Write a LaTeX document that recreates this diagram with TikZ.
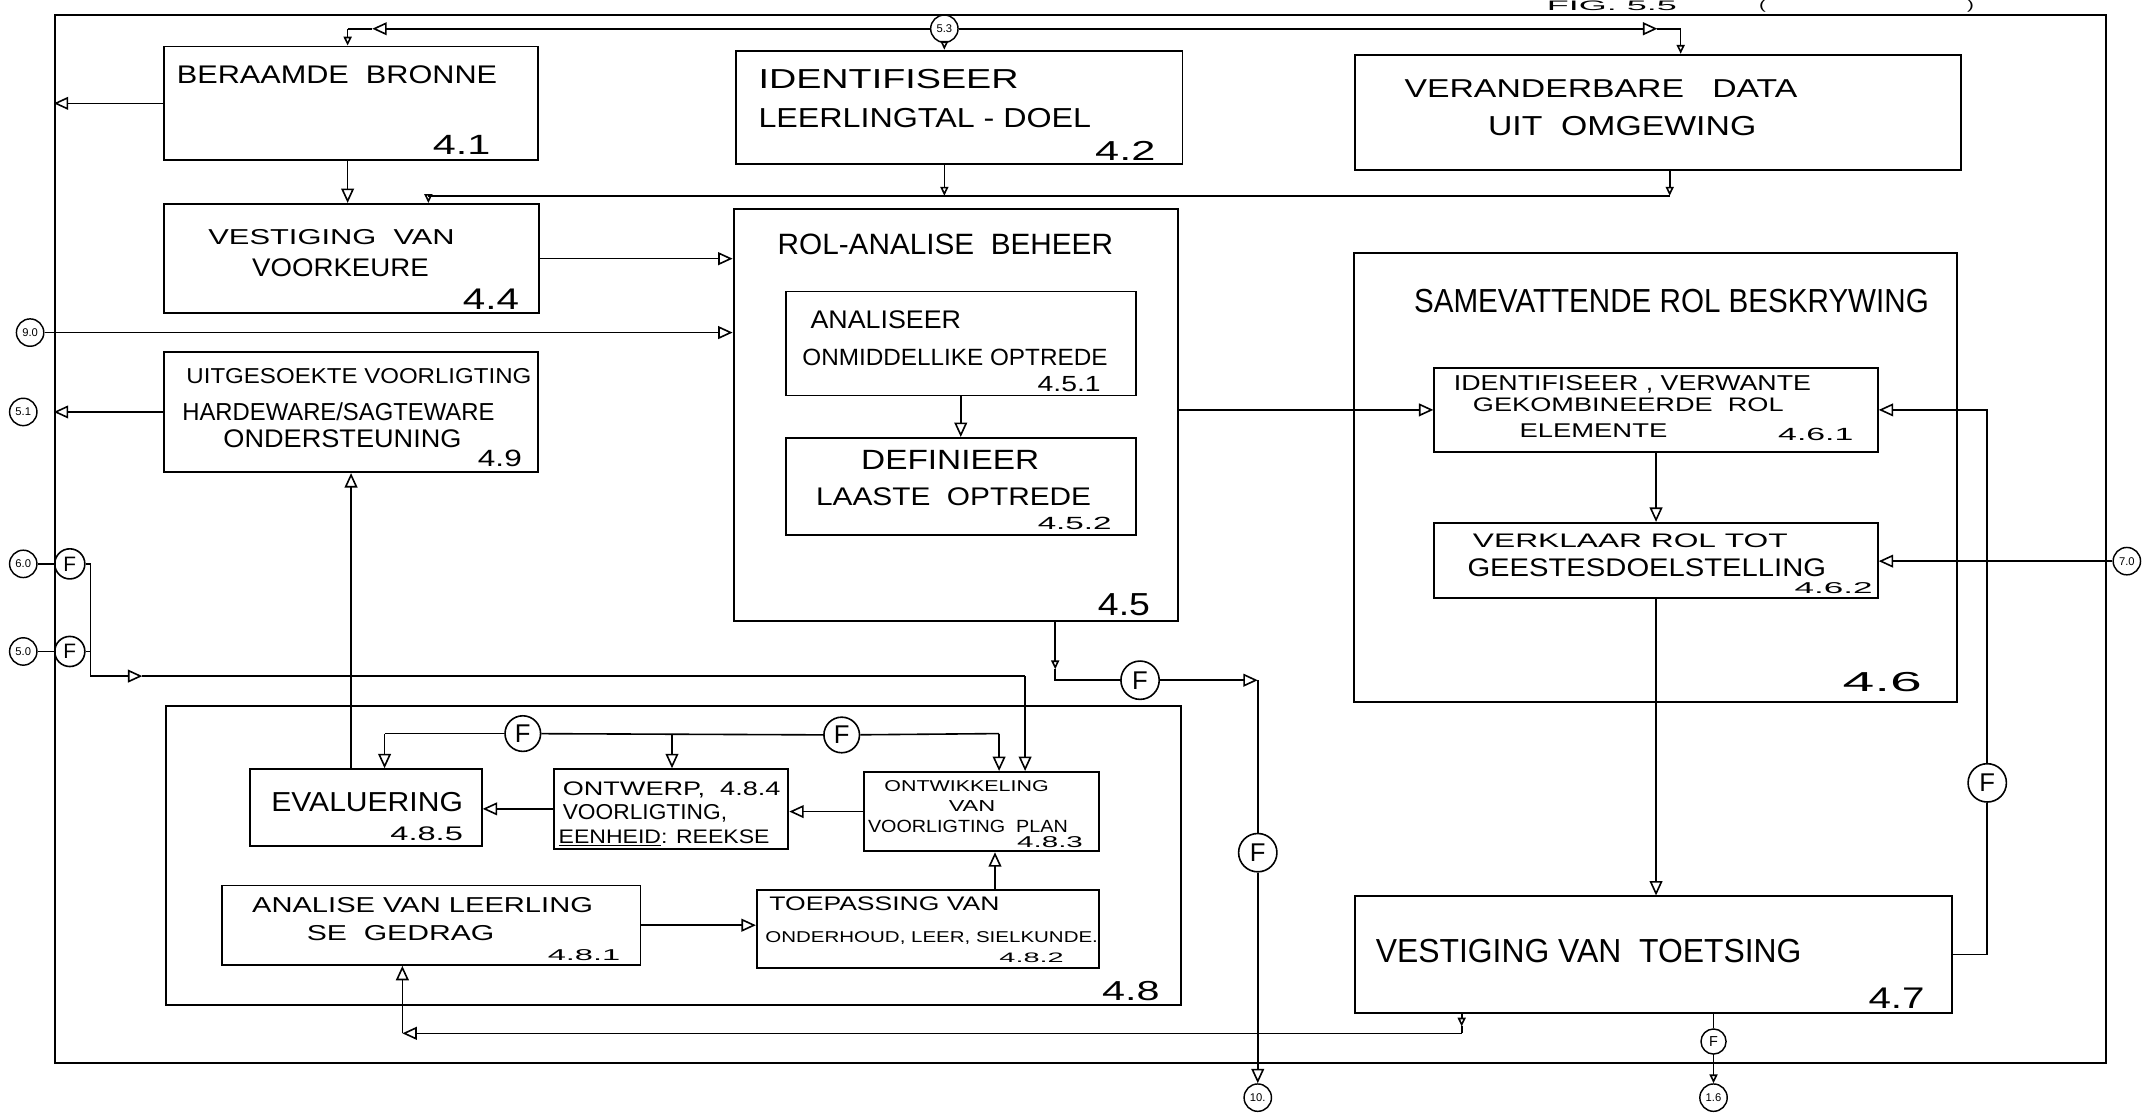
\documentclass[tikz,border=0pt]{standalone}
\usepackage{fontspec}
\setmainfont{Liberation Sans}
\usepackage{graphicx}
\usetikzlibrary{arrows.meta,fit}
\newlength\myu
\setlength\myu{0.03cm}
\newcommand\tx[3]{\resizebox{#1\myu}{#2\myu}{#3}}
\begin{document}
\begin{tikzpicture}[x=0.03cm,y=-0.03cm,
 box/.style={draw,line width=1.2pt,inner sep=0pt},
 ln/.style={line width=1pt},
 arr/.style={ln,-{Triangle[open,length=9pt,width=8pt]}},
 sarr/.style={ln,-{Triangle[open,length=5.5pt,width=5pt]}},
 lc/.style={draw,circle,line width=0.9pt,inner sep=0pt,minimum size=0.6cm,font=\fontsize{7}{8}\selectfont},
 fc/.style={draw,circle,line width=1pt,inner sep=0pt,minimum size=0.84cm,font=\fontsize{16}{17}\selectfont},
 lab/.style={anchor=base west,inner sep=0pt},
]
\useasboundingbox (0,0) rectangle (1568,818);
\fill[white] (0,0) rectangle (1568,818);

% frame and boxes
\node[box,fit={(40,11) (1539,777)}] (frame) {};
\node[box,fit={(120,34) (393,117)}] (b41) {};
\node[box,fit={(538,37) (864,120)}] (b42) {};
\node[box,fit={(990,40) (1433,124)}] (b43) {};
\node[box,fit={(120,149) (394,229)}] (b44) {};
\node[box,fit={(536,153) (861,454)}] (b45) {};
\node[box,fit={(574,213) (830,289)}] (b451) {};
\node[box,fit={(574,320) (830,391)}] (b452) {};
\node[box,fit={(989,185) (1430,513)}] (b46) {};
\node[box,fit={(1048,269) (1372,330)}] (b461) {};
\node[box,fit={(1048,382) (1372,437)}] (b462) {};
\node[box,fit={(990,655) (1426,740)}] (b47) {};
\node[box,fit={(120,257) (393,345)}] (b49) {};
\node[box,fit={(121,516) (863,734)}] (b48) {};
\node[box,fit={(183,562) (352,618)}] (b485) {};
\node[box,fit={(405,562) (576,620)}] (b484) {};
\node[box,fit={(631,564) (803,622)}] (b483) {};
\node[box,fit={(162,647) (468,705)}] (b481) {};
\node[box,fit={(553,650) (803,707)}] (b482) {};

% texts
\node[lab] (t41) at (129,61) {\tx{234}{13}{BERAAMDE\ \ BRONNE}};
\node[lab] (n41) at (316,113) {\tx{42}{14}{4.1}};
\node[lab] (t42a) at (554,65) {\tx{190}{14}{IDENTIFISEER}};
\node[lab] (t42b) at (554,93) {\tx{243}{14}{LEERLINGTAL - DOEL}};
\node[lab] (n42) at (800,117) {\tx{44}{14}{4.2}};
\node[lab] (t43a) at (1026,71) {\tx{287}{13}{VERANDERBARE\ \ \ DATA}};
\node[lab] (t43b) at (1087,99) {\tx{196}{14}{UIT\ \ OMGEWING}};
\node[lab] (t44a) at (152,179) {\tx{180}{11}{VESTIGING\ \ VAN}};
\node[lab] (t44b) at (184,202) {\tx{129}{13}{VOORKEURE}};
\node[lab] (n44) at (338,226) {\tx{41}{15}{4.4}};
\node[lab] (t49a) at (136,280) {\tx{252}{11}{UITGESOEKTE VOORLIGTING}};
\node[lab] (t49b) at (133,307) {\tx{228}{13}{HARDEWARE/SAGTEWARE}};
\node[lab] (t49c) at (163,327) {\tx{174}{13}{ONDERSTEUNING}};
\node[lab] (n49) at (349,341) {\tx{32}{12}{4.9}};
\node[lab] (t45) at (568,186) {\tx{245}{15}{ROL-ANALISE\ \ BEHEER}};
\node[lab] (t451a) at (592,240) {\tx{110}{13}{ANALISEER}};
\node[lab] (t451b) at (586,267) {\tx{223}{12}{ONMIDDELLIKE OPTREDE}};
\node[lab] (n451) at (758,286) {\tx{46}{11}{4.5.1}};
\node[lab] (t452a) at (629,343) {\tx{130}{14}{DEFINIEER}};
\node[lab] (t452b) at (596,369) {\tx{201}{13}{LAASTE\ \ OPTREDE}};
\node[lab] (n452) at (758,387) {\tx{54}{9}{4.5.2}};
\node[lab] (n45) at (802,450) {\tx{38}{16}{4.5}};
\node[lab] (t46) at (1033,228) {\tx{376}{17}{SAMEVATTENDE ROL BESKRYWING}};
\node[lab] (t461a) at (1062,285) {\tx{261}{11}{IDENTIFISEER , VERWANTE}};
\node[lab] (t461b) at (1076,301) {\tx{227}{10}{GEKOMBINEERDE\ \ ROL}};
\node[lab] (t461c) at (1110,320) {\tx{108}{10}{ELEMENTE}};
\node[lab] (n461) at (1299,322) {\tx{55}{9}{4.6.1}};
\node[lab] (t462a) at (1076,400) {\tx{230}{10}{VERKLAAR ROL TOT}};
\node[lab] (t462b) at (1072,421) {\tx{262}{13}{GEESTESDOELSTELLING}};
\node[lab] (n462) at (1311,434) {\tx{57}{8}{4.6.2}};
\node[lab] (n46) at (1346,505) {\tx{58}{14}{4.6}};
\node[lab] (t47) at (1005,703) {\tx{311}{17}{VESTIGING VAN\ \ TOETSING}};
\node[lab] (n47) at (1365,737) {\tx{41}{15}{4.7}};
\node[lab] (t485) at (198,593) {\tx{140}{14}{EVALUERING}};
\node[lab] (n485) at (285,614) {\tx{53}{10}{4.8.5}};
\node[lab] (t484a) at (411,581) {\tx{159}{10}{ONTWERP,\ \ 4.8.4}};
\node[lab] (t484b) at (411,599) {\tx{120}{11}{VOORLIGTING,}};
\node[lab] (t484c) at (408,616) {\tx{154}{10}{\underline{EENHEID}: REEKSE}};
\node[lab] (t483a) at (646,578) {\tx{120}{8}{ONTWIKKELING}};
\node[lab] (t483b) at (693,593) {\tx{34}{8}{VAN}};
\node[lab] (t483c) at (634,608) {\tx{146}{9}{VOORLIGTING\ \ PLAN}};
\node[lab] (n483) at (743,619) {\tx{48}{8}{4.8.3}};
\node[lab] (t481a) at (184,667) {\tx{249}{11}{ANALISE VAN LEERLING}};
\node[lab] (t481b) at (224,687) {\tx{137}{11}{SE\ \ GEDRAG}};
\node[lab] (n481) at (400,702) {\tx{53}{8}{4.8.1}};
\node[lab] (t482a) at (562,665) {\tx{168}{10}{TOEPASSING VAN}};
\node[lab] (t482b) at (559,689) {\tx{243}{8}{ONDERHOUD, LEER, SIELKUNDE.}};
\node[lab] (n482) at (730,703) {\tx{47}{7}{4.8.2}};
\node[lab] (n48) at (805,731) {\tx{42}{14}{4.8}};
\node[lab] (fig) at (1130,8) {\tx{95}{7}{FIG. 5.5}};
\node[lab] (figl) at (1285,7) {\tx{5}{7}{(}};
\node[lab] (figr) at (1437,7) {\tx{5}{7}{)}};

% 5.3 distribution along top
\node[lc] (c53) at (690,21) {5.3};
\coordinate (tla) at (272,21);
\coordinate (tl) at (254,21);
\coordinate (tra) at (1211,21);
\coordinate (tr) at (1228,21);
\draw[arr] (c53.west) -- (tla);
\draw[ln] (tla) -- (tl);
\draw[sarr] (tl) -- (tl |- b41.north);
\draw[arr] (c53.east) -- (tra);
\draw[ln] (tra) -- (tr);
\draw[sarr] (tr) -- (tr |- b43.north);
\draw[sarr] (c53.south) -- (c53 |- b42.north);

% 4.1 outputs
\draw[arr] (b41.west) -- (b41.west -| frame.west);
\draw[arr] (b41.south -| tl) -- (tl |- b44.north);

% bus from 4.2 and 4.3 to 4.4
\coordinate (busL) at (313,143);
\coordinate (busR) at (1220,143);
\draw[sarr] (b42.south -| c53) -- (c53 |- busL);
\draw[sarr] (b43.south -| busR) -- (busR);
\draw[ln] (busR) -- (busL);
\draw[sarr] (busL) -- (busL |- b44.north);

% into 4.5
\draw[arr] (b44.east) -- (b44.east -| b45.west);
\node[lc] (c90) at (22,243) {9.0};
\draw[arr] (c90) -- (c90 -| b45.west);
\draw[arr] (b451) -- (b452);

% 4.5 -> 4.6
\draw[arr] (b45.east |- b461.west) -- (b461.west);
\draw[arr] (b461) -- (b462);
\node[lc] (c70) at (1554,410) {7.0};
\draw[arr] (c70) -- (c70 -| b462.east);
\draw[arr] (b462.south) -- (b462.south |- b47.north);

% F loop 4.7 -> 4.6.1
\node[fc] (fR) at (1452,572) {F};
\draw[ln] (b47.east) -| (fR.south);
\draw[arr] (fR.north) |- (b461.east);

% 4.7 outputs
\coordinate (r1) at (1068,750);
\coordinate (r2) at (1068,755);
\coordinate (r3) at (294,755);
\draw[sarr] (b47.south -| r1) -- (r1);
\draw[ln] (r1) -- (r2);
\draw[arr] (r2) -- (r3);
\draw[arr] (r3) -- (r3 |- b481.south);
\node[lc,minimum size=0.55cm,font=\fontsize{9}{10}\selectfont] (fs) at (1252,761) {F};
\node[lc] (c16) at (1252,802) {1.6};
\draw[ln] (b47.south -| fs) -- (fs);
\draw[sarr] (fs) -- (c16);

% 4.5 F output
\coordinate (k1) at (771,489);
\coordinate (k2) at (771,497);
\coordinate (k3) at (919,497);
\node[fc] (f45) at (833,497) {F};
\node[fc] (fV) at (919,623) {F};
\node[lc] (c10) at (919,802) {10.};
\draw[sarr] (b45.south -| k1) -- (k1);
\draw[ln] (k1) -- (k2) -- (f45);
\draw[arr] (f45) -- (k3);
\draw[ln] (k3) -- (fV);
\draw[arr] (fV) -- (c10);

% 6.0 and 5.0 inputs
\node[lc] (c60) at (17,412) {6.0};
\node[fc,minimum size=0.66cm,font=\fontsize{13}{14}\selectfont] (f60) at (51,412) {F};
\node[lc] (c50) at (17,476) {5.0};
\node[fc,minimum size=0.66cm,font=\fontsize{13}{14}\selectfont] (f50) at (51,476) {F};
\draw[ln] (c60) -- (f60);
\draw[ln] (c50) -- (f50);
\coordinate (v1) at (66,412);
\coordinate (v2) at (66,494);
\coordinate (v3) at (104,494);
\coordinate (v4) at (749,494);
\draw[ln] (f60) -- (v1) -- (v2);
\draw[arr] (v2) -- (v3);
\draw[ln] (v3) -- (v4);
\draw[arr] (v4) -- (v4 |- b483.north);
\draw[ln] (f50) -- (f50 -| v1);

% 4.9
\node[lc] (c51) at (17,301) {5.1};
\draw[arr] (b49.west) -- (b49.west -| frame.west);
\draw[arr] (b485.north -| b49.south) -- (b49.south);

% inside 4.8
\node[fc,minimum size=0.78cm] (f1) at (382,536) {F};
\node[fc,minimum size=0.78cm] (f2) at (615,537) {F};
\coordinate (i1) at (281,536);
\coordinate (i2) at (491,536);
\coordinate (i3) at (730,536);
\draw[ln] (f1) -- (i1);
\draw[arr] (i1) -- (i1 |- b485.north);
\draw[ln] (f1) -- (f2);
\draw[arr] (i2) -- (i2 |- b484.north);
\draw[ln] (f2) -- (i3);
\draw[arr] (i3) -- (i3 |- b483.north);
\draw[arr] (b483.west) -- (b483.west -| b484.east);
\draw[arr] (b484.west) -- (b484.west -| b485.east);
\draw[arr] (b481.east) -- (b481.east -| b482.west);
\coordinate (u1) at (727,0);
\draw[arr] (b482.north -| u1) -- (b483.south -| u1);
\end{tikzpicture}
\end{document}
